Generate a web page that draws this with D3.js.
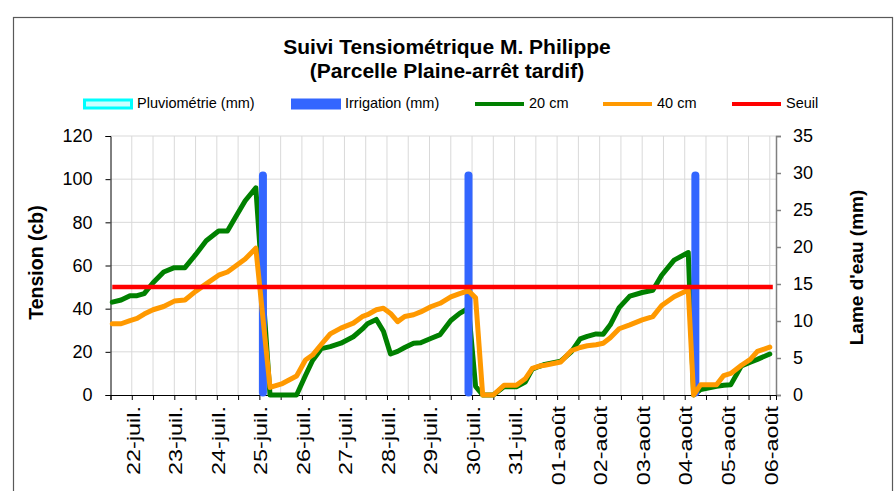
<!DOCTYPE html>
<html><head><meta charset="utf-8">
<script src="https://cdn.jsdelivr.net/npm/d3@7"></script>
<style>
body{margin:0;background:#fff;}
svg{display:block;font-family:"Liberation Sans",Arial,sans-serif;}
</style>
</head><body>
<svg id="c" width="895" height="491"></svg>
<script>
// ---- data (hours counted from 22-juil. 00:00) ----
const hours = [-11,-6,-1,3,7,12,18,24,30,36,42,49,54,59,64,70,78,85,93,98,102,107,112,118,125,130,133,138,142,146,150,154,159,163,169,174,180,185,190,194,198,204,210,217,222,226,230,233,242,248,253,257,262,266,270,275,281,288,294,299,306,314,317,321,330,334,338,344,349,353,360];
const tension20 = [43,44,46,46,47,52,57,59,59,65,71.5,76,76,83,90,96,0,0,0,9,16,21.5,22.4,24,27,30.5,33,35,29.5,19,20.2,22,24,24.2,26.3,28,34.5,37.8,40.2,4,0,0,3.8,3.8,6,12,13.3,14.2,15.7,20,26,27.2,28.3,28.2,32.5,40.5,45.8,47.5,48.5,55.5,62.5,66,0,2.5,4,4.5,4.8,13.5,15.2,16.5,19];
const tension40 = [33,33,34.5,35.5,37.5,39.5,41,43.5,44,48,51.5,55.5,57,60,63,68,3.5,5.3,8.8,16.2,18.5,23.5,28.3,31,33.3,36.3,37.2,39.5,40.2,37.8,34,36.4,37.2,38.5,41,42.5,45.5,47,48.3,45,0,0,4.5,4.5,7.5,12.3,13.4,13.8,15.3,20.5,22,22.8,23.3,24,26.5,30.7,32.5,34.8,36.3,41.5,45.5,48.6,0,4.8,4.8,9,10,13.8,16.5,20.2,22.2];
const irrigationHours = [74, 190, 318];
const irrigationMm = [30, 30, 30];
const seuilValue = 50;
const dayLabels = ["22-juil.","23-juil.","24-juil.","25-juil.","26-juil.","27-juil.","28-juil.","29-juil.","30-juil.","31-juil.","01-août","02-août","03-août","04-août","05-août","06-août"];
const leftTicks = [0,20,40,60,80,100,120];
const rightTicks = [0,5,10,15,20,25,30,35];
const titleLines = ["Suivi Tensiométrique M. Philippe","(Parcelle Plaine-arrêt tardif)"];
const legendLabels = ["Pluviométrie (mm)","Irrigation (mm)","20 cm","40 cm","Seuil"];

// ---- layout ----
const svg = d3.select("#c");
const x = d3.scaleLinear().domain([-12, 363.5]).range([110.5, 776]);
const yL = d3.scaleLinear().domain([0,120]).range([395,136]);
const yR = d3.scaleLinear().domain([0,35]).range([395,136]);
const minorHours = d3.range(-12, 361, 12);

// outer border
svg.append("rect").attr("x",13.5).attr("y",17.5).attr("width",879).attr("height",490)
  .attr("fill","#fff").attr("stroke","#595959").attr("stroke-width",1.2);

// title
svg.append("g").selectAll("text").data(titleLines).join("text")
  .attr("x",447).attr("y",(d,i)=>54+i*24).attr("text-anchor","middle")
  .attr("font-size",21).attr("font-weight","bold").attr("fill","#000").text(d=>d);

// gridlines
const grid = svg.append("g");
grid.selectAll("line.h").data(leftTicks.filter(v=>v>0)).join("line")
  .attr("x1",x.range()[0]).attr("x2",x.range()[1]).attr("y1",d=>yL(d)).attr("y2",d=>yL(d))
  .attr("stroke","#d9d9d9").attr("stroke-width",1);
grid.selectAll("line.v").data(minorHours.slice(1)).join("line")
  .attr("x1",d=>x(d)).attr("x2",d=>x(d)).attr("y1",yL(120)).attr("y2",yL(0))
  .attr("stroke","#d9d9d9").attr("stroke-width",1);

// axes
const axL = svg.append("g").attr("transform",`translate(${x.range()[0]},0)`)
  .call(d3.axisLeft(yL).tickValues(leftTicks).tickSize(5).tickPadding(13));
axL.selectAll("text").attr("font-size",18).attr("fill","#000").attr("font-family","Liberation Sans, Arial");
axL.selectAll("path,line").attr("stroke","#000");

const axR = svg.append("g").attr("transform",`translate(${x.range()[1]},0)`)
  .call(d3.axisRight(yR).tickValues(rightTicks).tickSize(5).tickPadding(12));
axR.selectAll("text").attr("font-size",18).attr("fill","#000").attr("font-family","Liberation Sans, Arial");
axR.selectAll("path,line").attr("stroke","#808080").attr("stroke-width",1.5);

const axB = svg.append("g").attr("transform",`translate(0,${yL(0)})`)
  .call(d3.axisBottom(x).tickValues(minorHours).tickSize(5).tickFormat(""));
axB.selectAll("path,line").attr("stroke","#000");

// x labels
svg.append("g").selectAll("text").data(dayLabels).join("text")
  .attr("transform",(d,i)=>`translate(${x(i*24)+3},406) rotate(-90) scale(1.3,1)`)
  .attr("text-anchor","end").attr("dominant-baseline","middle")
  .attr("font-size",18).attr("fill","#000").text(d=>d);

// axis titles
svg.append("text").attr("transform",`translate(38,${(yL(0)+yL(120))/2-3}) rotate(-90)`)
  .attr("text-anchor","middle").attr("dominant-baseline","middle")
  .attr("font-size",19.5).attr("font-weight","bold").text("Tension (cb)");
svg.append("text").attr("transform",`translate(858,${(yL(0)+yL(120))/2+2}) rotate(-90)`)
  .attr("text-anchor","middle").attr("dominant-baseline","middle")
  .attr("font-size",19).attr("font-weight","bold").text("Lame d'eau (mm)");

// series
const pts = hours.map((h,i)=>({h, g:tension20[i], o:tension40[i]}));
const lineG = d3.line().x(d=>x(d.h)).y(d=>yL(d.g));
const lineO = d3.line().x(d=>x(d.h)).y(d=>yL(d.o));

svg.append("path").datum(pts).attr("d",lineG).attr("fill","none")
  .attr("stroke","#008000").attr("stroke-width",5).attr("stroke-linejoin","round").attr("stroke-linecap","round");

svg.append("g").selectAll("rect").data(irrigationHours.map((h,i)=>({h,v:irrigationMm[i]}))).join("rect")
  .attr("x",d=>x(d.h)-4).attr("width",8).attr("y",d=>yR(d.v)-1.5)
  .attr("height",d=>yR(0)-yR(d.v)+3).attr("rx",4).attr("fill","#3366ff");

svg.append("path").datum(pts).attr("d",lineO).attr("fill","none")
  .attr("stroke","#ff9900").attr("stroke-width",5).attr("stroke-linejoin","round").attr("stroke-linecap","round");

svg.append("line").attr("x1",x(hours[0])).attr("x2",x(hours[hours.length-1])+3)
  .attr("y1",yL(seuilValue)).attr("y2",yL(seuilValue))
  .attr("stroke","#ff0000").attr("stroke-width",4.5);

// legend
const leg = svg.append("g");
const symX = [83,291,475,603,732];
const ly = 104;
leg.append("rect").attr("x",symX[0]+1.5).attr("y",ly-4).attr("width",47).attr("height",8)
  .attr("fill","#ccffff").attr("stroke","#00ffff").attr("stroke-width",3);
leg.append("rect").attr("x",symX[1]).attr("y",ly-5.5).attr("width",50).attr("height",11).attr("fill","#3366ff");
[["#008000",2],["#ff9900",3],["#ff0000",4]].forEach(([c,i])=>{
  leg.append("line").attr("x1",symX[i]).attr("x2",symX[i]+49).attr("y1",ly).attr("y2",ly)
    .attr("stroke",c).attr("stroke-width",4);
});
leg.selectAll("text").data(legendLabels).join("text")
  .attr("x",(d,i)=>symX[i]+54).attr("y",ly).attr("dominant-baseline","middle")
  .attr("font-size",14.5).attr("fill","#000").text(d=>d);
</script>
</body></html>
